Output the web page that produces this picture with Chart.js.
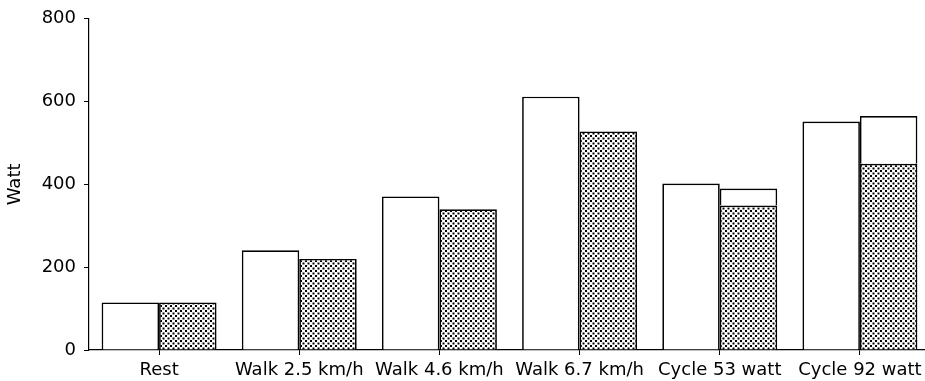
<!DOCTYPE html>
<html>
<head>
<meta charset="utf-8">
<script src="https://cdn.jsdelivr.net/npm/chart.js@4"></script>
<style>
    html, body { margin: 0; padding: 0; background: #fff; overflow: hidden; }
    .wrap { position: absolute; left: 0; top: 0; width: 935px; height: 381px; }
</style>
</head>
<body>
<div class="wrap"><canvas id="wattChart"></canvas></div>
<script>
// Datos
const categories = ['Rest', 'Walk 2.5 km/h', 'Walk 4.6 km/h', 'Walk 6.7 km/h', 'Cycle 53 watt', 'Cycle 92 watt'];
const whiteValues = [115, 241, 371, 612, 402, 552];
const dottedValues = [115, 220, 340, 528, 349, 450];
const totalValues = [null, null, null, null, 390, 565];
const yTicks = [0, 200, 400, 600, 800];

// Trama de puntos
function dotPattern() {
    const c = document.createElement('canvas');
    c.width = 5; c.height = 5;
    const g = c.getContext('2d');
    g.fillStyle = '#fff';
    g.fillRect(0, 0, 5, 5);
    g.fillStyle = '#000';
    g.fillRect(0, 0, 2, 2);
    g.fillRect(2.5, 2.5, 2, 2);
    return g.createPattern(c, 'repeat');
}
const dots = dotPattern();

const font = { family: '"DejaVu Sans", sans-serif', size: 18 };

const ctx = document.getElementById('wattChart').getContext('2d');
new Chart(ctx, {
    type: 'bar',
    data: {
        labels: categories,
        datasets: [{
            data: whiteValues,
            backgroundColor: '#fff',
            borderColor: '#000',
            borderWidth: 1.7,
            stack: 'a'
        }, {
            data: dottedValues,
            backgroundColor: dots,
            borderColor: '#000',
            borderWidth: 1.7,
            stack: 'b'
        }, {
            data: totalValues.map((v, i) => v === null ? null : [dottedValues[i], v]),
            backgroundColor: '#fff',
            borderColor: '#000',
            borderWidth: 1.7,
            borderSkipped: 'bottom',
            stack: 'b'
        }]
    },
    options: {
        responsive: true,
        maintainAspectRatio: false,
        animation: false,
        layout: { padding: { top: 18, right: 5, left: 0, bottom: 0 } },
        plugins: { legend: { display: false }, tooltip: { enabled: false } },
        datasets: { bar: { barPercentage: 1, categoryPercentage: 0.82 } },
        scales: {
            x: {
                stacked: true,
                offset: true,
                grid: { offset: false, drawOnChartArea: false, tickLength: 5, color: '#000' },
                border: { color: '#000', width: 1.2 },
                ticks: { color: '#000', font: font, padding: 5, maxRotation: 0, autoSkip: false },
                afterFit: (s) => { s.height = 31; }
            },
            y: {
                stacked: false,
                min: 0,
                max: 800,
                afterBuildTicks: (s) => { s.ticks = yTicks.map(v => ({ value: v })); },
                grid: { drawOnChartArea: false, tickLength: 5, color: '#000' },
                border: { color: '#000', width: 1.2 },
                ticks: { color: '#000', font: font, padding: 8 },
                title: { display: true, text: 'Watt', color: '#000', font: font, padding: { top: 5, bottom: 0 } },
                afterFit: (s) => { s.width = 89; }
            }
        }
    }
});
</script>
</body>
</html>
